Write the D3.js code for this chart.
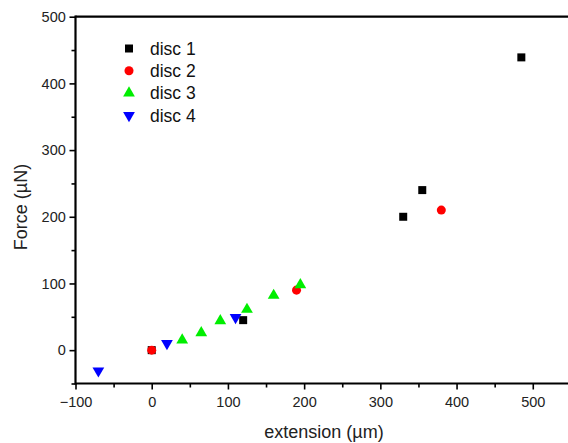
<!DOCTYPE html>
<html><head><meta charset="utf-8">
<script src="https://cdn.jsdelivr.net/npm/d3@7/dist/d3.min.js"></script>
<style>body{margin:0;background:#fff;}svg{display:block;font-family:"Liberation Sans",Arial,sans-serif;}</style>
</head><body>
<svg id="c" width="568" height="443"></svg>
<script>
const xTicks = [-100, 0, 100, 200, 300, 400, 500];
const yTicks = [0, 100, 200, 300, 400, 500];
const seriesNames = ["disc 1", "disc 2", "disc 3", "disc 4"];
const disc1X = [0, 120, 330, 355, 485];
const disc1Y = [0, 45, 200, 240, 439];
const disc2X = [0, 190, 380];
const disc2Y = [0, 90, 210];
const disc3X = [40, 65, 90, 125, 160, 195];
const disc3Y = [15, 26, 44, 61, 82, 98];
const disc4X = [-70, 20, 110];
const disc4Y = [-31, 10, 49];

const svg = d3.select("#c");
const x = d3.scaleLinear().domain([-100, 560]).range([75.5, 578.5]);
const y = d3.scaleLinear().domain([-50, 500]).range([383.5, 16.7]);

const series = [
  {name: seriesNames[0], xs: disc1X, ys: disc1Y, color: "#000000", sym: d3.symbolSquare, size: 64, rot: 0},
  {name: seriesNames[1], xs: disc2X, ys: disc2Y, color: "#ff0000", sym: d3.symbolCircle, size: 64, rot: 0},
  {name: seriesNames[2], xs: disc3X, ys: disc3Y, color: "#00ee00", sym: d3.symbolTriangle, size: 60, rot: 0},
  {name: seriesNames[3], xs: disc4X, ys: disc4Y, color: "#0000ff", sym: d3.symbolTriangle, size: 60, rot: 180}
];

// axes
const xAxis = d3.axisBottom(x).tickValues(xTicks).tickSize(6).tickFormat(d3.format("d"));
const xMinor = d3.axisBottom(x).tickValues([-50, 50, 150, 250, 350, 450, 550]).tickSize(4).tickFormat("");
const yAxis = d3.axisLeft(y).tickValues(yTicks).tickSize(6).tickFormat(d3.format("d"));
const yMinor = d3.axisLeft(y).tickValues([-50, 50, 150, 250, 350, 450]).tickSize(4).tickFormat("");

function styleAxis(g){
  g.select(".domain").remove();
  g.selectAll(".tick line").attr("stroke", "#000").attr("stroke-width", 1.6);
  g.selectAll(".tick text").attr("fill", "#222").style("font-size", "14.5px").style("font-family", '"Liberation Sans",Arial,sans-serif');
}
svg.append("g").attr("transform", `translate(0,${y(-50)})`).call(xAxis).call(styleAxis)
  .selectAll(".tick text").attr("dy", "1.0em");
svg.append("g").attr("transform", `translate(0,${y(-50)})`).call(xMinor).call(styleAxis);
svg.append("g").attr("transform", `translate(${x(-100)},0)`).call(yAxis).call(styleAxis)
  .selectAll(".tick text").attr("dx", "-0.05em");
svg.append("g").attr("transform", `translate(${x(-100)},0)`).call(yMinor).call(styleAxis);

// frame lines (left, bottom, top)
svg.append("line").attr("x1", x(-100)).attr("x2", 568).attr("y1", y(-50)).attr("y2", y(-50)).attr("stroke", "#000").attr("stroke-width", 2.2);
svg.append("line").attr("x1", x(-100)).attr("x2", 568).attr("y1", y(500)).attr("y2", y(500)).attr("stroke", "#000").attr("stroke-width", 2.2);
svg.append("line").attr("x1", x(-100)).attr("x2", x(-100)).attr("y1", y(500) - 1.1).attr("y2", y(-50) + 1.1).attr("stroke", "#000").attr("stroke-width", 2.2);

// points
series.forEach(s => {
  const pts = s.xs.map((v, i) => [v, s.ys[i]]);
  svg.append("g").selectAll("path").data(pts).join("path")
    .attr("d", d3.symbol().type(s.sym).size(s.size))
    .attr("transform", d => `translate(${x(d[0])},${y(d[1])}) rotate(${s.rot})`)
    .attr("fill", s.color);
});

// legend
const legend = svg.append("g");
series.forEach((s, i) => {
  const ly = 48.5 + i * 22.3;
  legend.append("path").attr("d", d3.symbol().type(s.sym).size(s.size))
    .attr("transform", `translate(129,${ly}) rotate(${s.rot})`).attr("fill", s.color);
  legend.append("text").attr("x", 150).attr("y", ly).attr("dy", "0.36em")
    .style("font-size", "17.5px").attr("fill", "#111").text(s.name);
});

// axis titles
svg.append("text").attr("x", 324).attr("y", 438).attr("text-anchor", "middle")
  .style("font-size", "18px").attr("fill", "#222").text("extension (\u00b5m)");
svg.append("text").attr("transform", `translate(27,207) rotate(-90)`).attr("text-anchor", "middle")
  .style("font-size", "18px").attr("fill", "#222").text("Force (\u00b5N)");
</script>
</body></html>
